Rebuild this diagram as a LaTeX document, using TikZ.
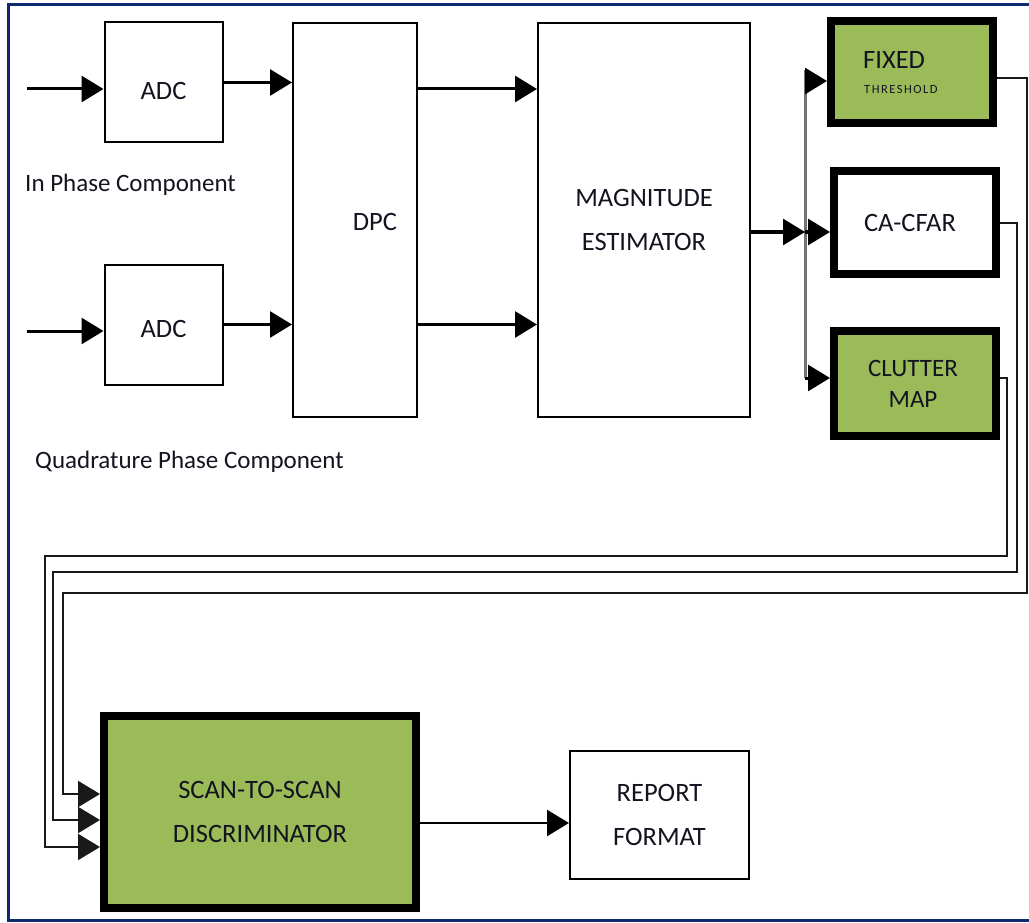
\documentclass[tikz,border=0pt]{standalone}
\usepackage{fontspec}
\setmainfont{Carlito}
\newfontfamily\thrfont[LetterSpace=12]{Carlito}
\usetikzlibrary{arrows.meta,positioning,calc}
\definecolor{boxgreen}{RGB}{155,187,89}
\definecolor{navy}{RGB}{16,40,110}
\definecolor{txt}{RGB}{20,20,32}
\tikzset{
  plainbox/.style={draw=black, line width=2pt, fill=white, inner sep=0pt, text=txt, align=center},
  thickbox/.style={draw=black, line width=8pt, inner sep=0pt, text=txt, align=center},
  greenfill/.style={fill=boxgreen},
  lbl/.style={font=\fontsize{26.5}{44}\selectfont},
  arr/.style={line width=3pt, -{Triangle[length=22pt,width=26pt]}},
  fb/.style={line width=2.2pt, draw=black!90, -{Triangle[length=22pt,width=26pt]}},
  side/.style={text=txt, font=\fontsize{25}{30}\selectfont, anchor=west, inner sep=0pt}
}
\begin{document}
\begin{tikzpicture}[x=1pt,y=-1pt]
\useasboundingbox (0,0) rectangle (1029,923);
\fill[white] (0,0) rectangle (1029,923);
\draw[navy, line width=3pt] (8,5) rectangle (1040,920);

% boxes
\node[plainbox, minimum width=118pt, minimum height=120pt,
      label={[lbl, text=txt, yshift=-8pt]center:ADC}] (adc1) at (163.5,82.5) {};
\node[plainbox, minimum width=118pt, minimum height=120pt,
      label={[lbl, text=txt, yshift=-4pt]center:ADC}] (adc2) at (163.5,324.5) {};
\node[plainbox, minimum width=124pt, minimum height=394pt,
      label={[lbl, text=txt, xshift=20pt, yshift=-2pt]center:DPC}] (dpc) at (355,220) {};
\node[plainbox, lbl, minimum width=212pt, minimum height=394pt] (mag) at (644,220) {MAGNITUDE\\ESTIMATOR};

\node[thickbox, greenfill, minimum width=162pt, minimum height=102pt] (fixed) at (912,72) {};
\node[text=txt, font=\fontsize{26.5}{30}\selectfont, anchor=west, inner sep=0pt] (fixedt) at (863,60) {FIXED};
\node[text=txt, font=\thrfont\fontsize{12.5}{14}\selectfont, anchor=west, inner sep=0pt] (thr) at (864,89) {THRESHOLD};

\node[thickbox, fill=white, lbl, minimum width=162pt, minimum height=103pt] (cacfar) at (915,222.5) {\hspace*{-10pt}CA-CFAR};
\node[thickbox, greenfill, font=\fontsize{25}{31}\selectfont, minimum width=162pt, minimum height=105pt] (clutter) at (915,383.5) {\hspace*{-4pt}CLUTTER\\\hspace*{-4pt}MAP};

\node[thickbox, greenfill, lbl, minimum width=312pt, minimum height=192pt] (scan) at (260,812) {SCAN-TO-SCAN\\DISCRIMINATOR};
\node[plainbox, lbl, minimum width=179pt, minimum height=128pt] (report) at (659.5,815) {REPORT\\FORMAT};

% side labels
\node[side] (inph) at (25,185) {In Phase Component};
\node[side] (quad) at (35,462) {Quadrature Phase Component};

% inputs
\coordinate (in1) at (27,89);
\coordinate (in2) at (27,331);
\draw[arr] (in1) -- (in1 -| adc1.west);
\draw[arr] (in2) -- (in2 -| adc2.west);

% ADC -> DPC
\draw[arr] (adc1.east) -- (adc1.east -| dpc.west);
\draw[arr] (adc2.east) -- (adc2.east -| dpc.west);

% DPC -> MAG
\draw[arr] (in1 -| dpc.east) -- (in1 -| mag.west);
\draw[arr] (adc2.east -| dpc.east) -- (adc2.east -| mag.west);

% MAG -> bus
\coordinate (bus) at (805,232);
\coordinate (busA) at (805,81);
\coordinate (busC) at (805,378);
\draw[line width=3pt, black!55] (805,70) -- (busC);
\draw[arr] (bus -| mag.east) -- (bus);
\draw[arr] (busA) -- (busA -| fixed.west);
\draw[arr] (bus) -- (bus -| cacfar.west);
\draw[arr] (busC) -- (busC -| clutter.west);

% feedback to scan-to-scan
\coordinate (f1) at (997,78);
\coordinate (f2) at (1000,223);
\coordinate (f3) at (1000,378);
\draw[fb] (f1) -- (1027,78) -- (1027,593) -- (63,593) -- (63,794) -- (63,794 -| scan.west);
\draw[fb] (f2) -- (1017,223) -- (1017,572) -- (53,572) -- (53,820) -- (53,820 -| scan.west);
\draw[fb] (f3) -- (1007,378) -- (1007,556) -- (45,556) -- (45,847) -- (45,847 -| scan.west);

% scan -> report
\draw[line width=2.5pt, -{Triangle[length=22pt,width=26pt]}] (scan.east |- 0,823) -- (report.west |- 0,823);
\end{tikzpicture}
\end{document}
